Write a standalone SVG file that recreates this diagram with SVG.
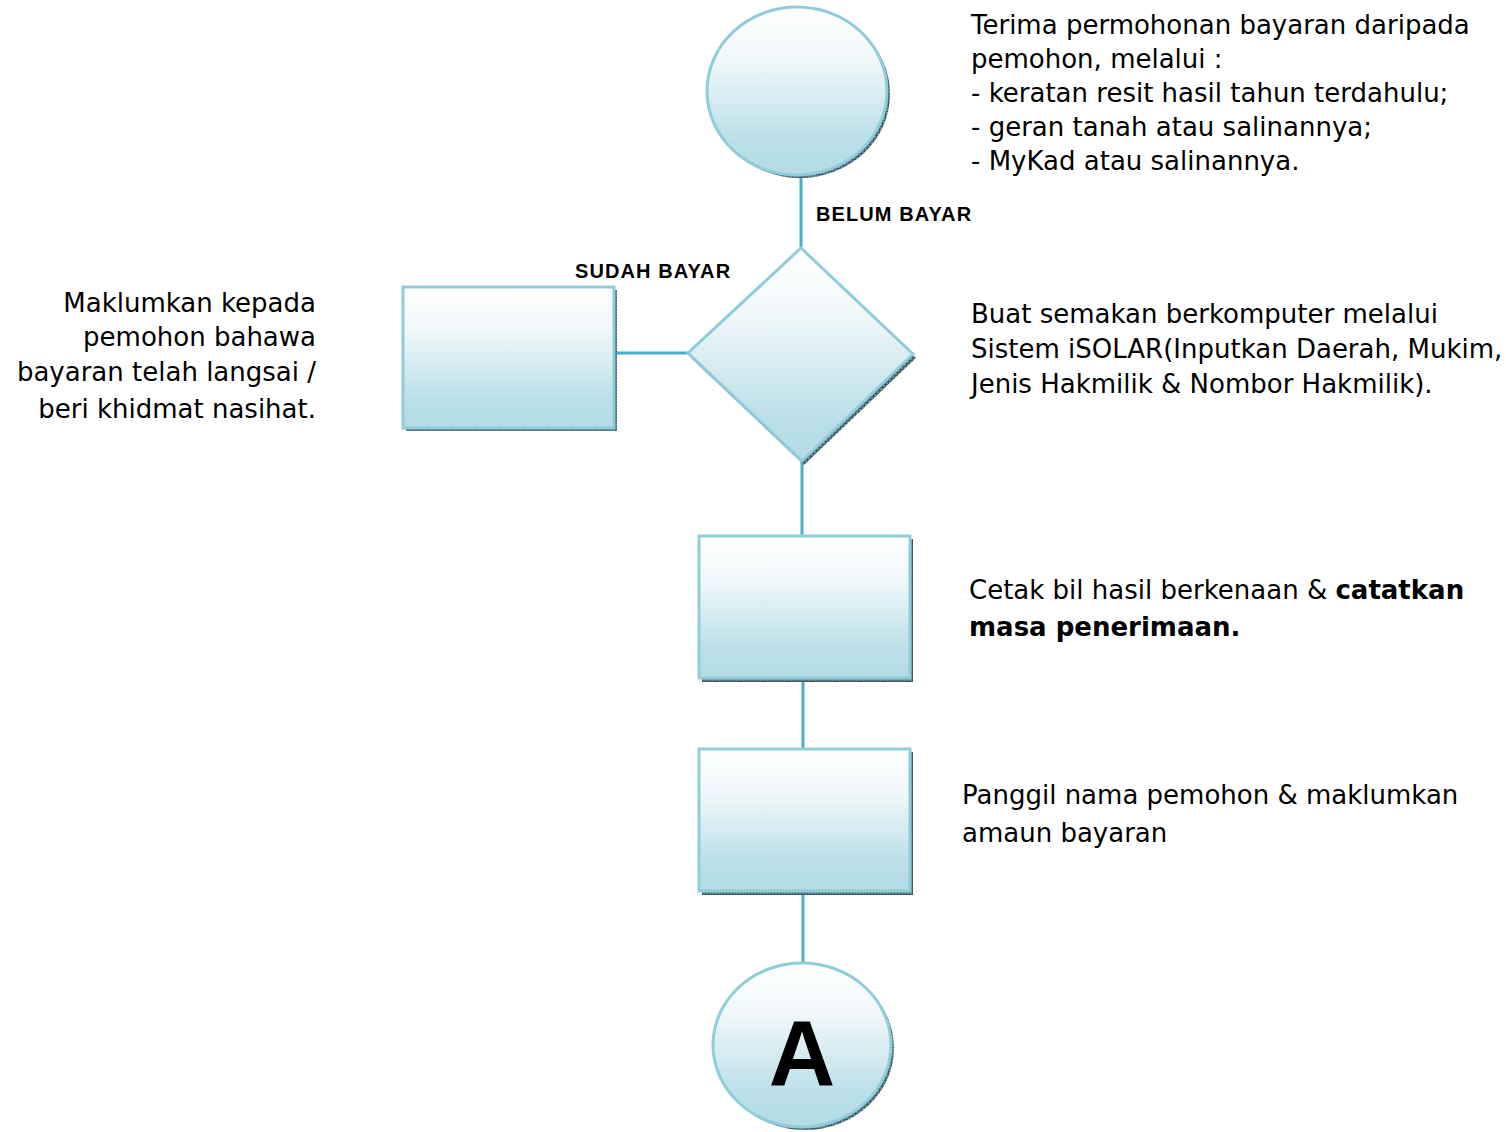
<svg xmlns="http://www.w3.org/2000/svg" width="1506" height="1132" viewBox="0 0 1506 1132">
<defs>
<linearGradient id="g" x1="0" y1="0" x2="0" y2="1">
<stop offset="0" stop-color="#ffffff"/>
<stop offset="0.3" stop-color="#f1f8fa"/>
<stop offset="0.8" stop-color="#badfe8"/>
<stop offset="1" stop-color="#b4dce6"/>
</linearGradient>
<pattern id="h" width="3" height="3" patternUnits="userSpaceOnUse">
<rect width="3" height="3" fill="#6f8d96"/>
<path d="M0 0.5H3M0.5 0V3" stroke="#3d5a63" stroke-width="1"/>
</pattern>
<style>
.shape{fill:url(#g);stroke:#8fcddb;stroke-width:3}
.shadow{fill:url(#h)}
.conn{stroke:#4aaeca;stroke-width:3;fill:none}
.t{font-family:"DejaVu Sans","Open Sans",sans-serif;font-size:26px;fill:#000}
.lbl{font-family:"Liberation Sans",Arial,sans-serif;font-size:20px;letter-spacing:1.1px;font-weight:bold;fill:#000}
</style>
</defs>
<g id="connectors">
<line class="conn" x1="801" y1="176" x2="801" y2="249"/>
<line class="conn" x1="614" y1="353" x2="689" y2="353"/>
<line class="conn" x1="802" y1="462" x2="802" y2="537"/>
<line class="conn" x1="803" y1="678" x2="803" y2="750"/>
<line class="conn" x1="803" y1="891" x2="803" y2="964"/>
</g>
<g id="start">
<ellipse class="shadow" cx="800" cy="94" rx="90" ry="84"/>
<ellipse class="shape" cx="797" cy="91" rx="90" ry="84"/>
</g>
<g id="decision">
<polygon class="shadow" points="803,251 916,358 804,465 691,358"/>
<polygon class="shape" points="801,248 913,354 802,461 688,353"/>
</g>
<g id="box-left">
<rect class="shadow" x="406" y="290" width="211" height="141"/>
<rect class="shape" x="403" y="287" width="211" height="141"/>
</g>
<g id="box-cetak">
<rect class="shadow" x="702" y="539" width="211" height="143"/>
<rect class="shape" x="699" y="536" width="211" height="142"/>
</g>
<g id="box-panggil">
<rect class="shadow" x="702" y="752" width="211" height="143"/>
<rect class="shape" x="699" y="749" width="211" height="142"/>
</g>
<g id="connector-A">
<ellipse class="shadow" cx="805" cy="1048" rx="89" ry="82"/>
<ellipse class="shape" cx="802" cy="1045" rx="89" ry="82"/>
<text x="802" y="1085" text-anchor="middle" font-family="Liberation Sans, Arial, sans-serif" font-weight="bold" font-size="92">A</text>
</g>
<g id="labels">
<text class="lbl" x="816" y="221">BELUM BAYAR</text>
<text class="lbl" x="575" y="278">SUDAH BAYAR</text>
</g>
<g id="notes">
<text class="t" x="971" y="34">Terima permohonan bayaran daripada</text>
<text class="t" x="971" y="68">pemohon, melalui :</text>
<text class="t" x="971" y="102">- keratan resit hasil tahun terdahulu;</text>
<text class="t" x="971" y="136">- geran tanah atau salinannya;</text>
<text class="t" x="971" y="170">- MyKad atau salinannya.</text>
<text class="t" x="971" y="323">Buat semakan berkomputer melalui</text>
<text class="t" x="971" y="358">Sistem iSOLAR(Inputkan Daerah, Mukim,</text>
<text class="t" x="971" y="393">Jenis Hakmilik &amp; Nombor Hakmilik).</text>
<text class="t" x="969" y="599">Cetak bil hasil berkenaan &amp; <tspan font-weight="bold">catatkan</tspan></text>
<text class="t" x="969" y="636" font-weight="bold">masa penerimaan.</text>
<text class="t" x="962" y="804">Panggil nama pemohon &amp; maklumkan</text>
<text class="t" x="962" y="842">amaun bayaran</text>
<text class="t" x="316" y="312" text-anchor="end">Maklumkan kepada</text>
<text class="t" x="316" y="346" text-anchor="end">pemohon bahawa</text>
<text class="t" x="316" y="381" text-anchor="end">bayaran telah langsai /</text>
<text class="t" x="316" y="418" text-anchor="end">beri khidmat nasihat.</text>
</g>
</svg>
